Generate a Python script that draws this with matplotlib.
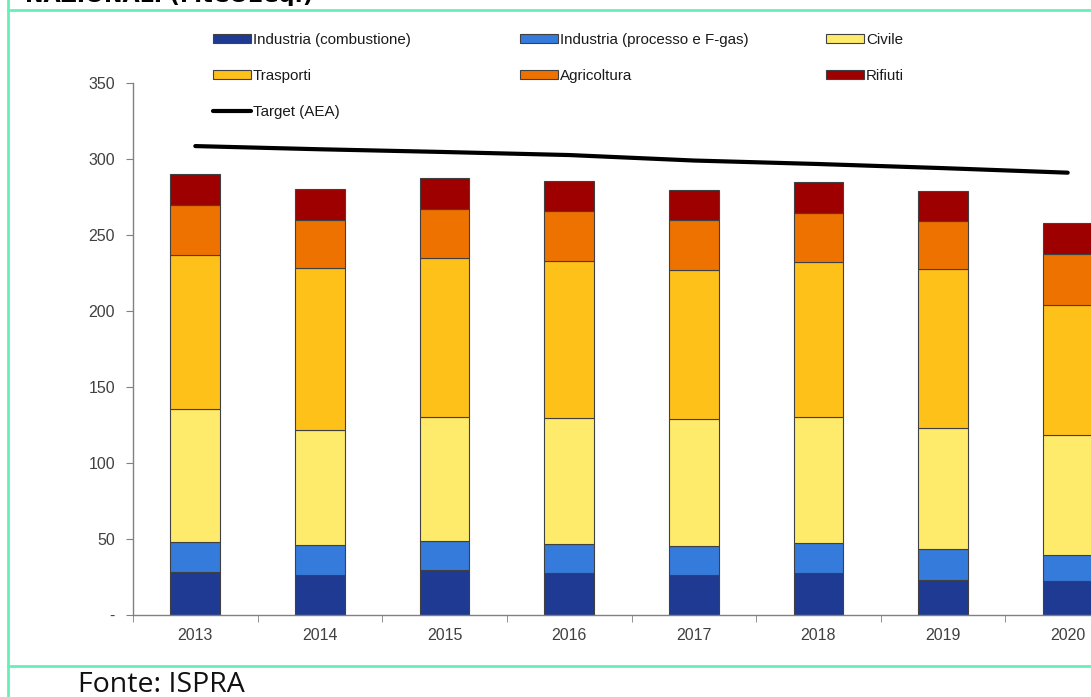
import numpy as np
import matplotlib
matplotlib.use('Agg')
import matplotlib.pyplot as plt
from matplotlib.patches import Patch
from matplotlib.lines import Line2D

# Emissions by sector (MtCO2eq), stacked bottom to top
anni = ['2013', '2014', '2015', '2016', '2017', '2018', '2019', '2020']
ind_combustione = [28.5, 26.3, 29.6, 27.6, 26.3, 27.6, 23.0, 22.4]
ind_processo = [19.7, 19.7, 19.1, 19.1, 19.1, 19.8, 20.2, 17.1]
civile = [87.3, 75.5, 81.8, 83.1, 83.5, 83.1, 79.8, 78.9]
trasporti = [101.3, 107.0, 104.2, 102.9, 98.3, 102.0, 104.4, 85.6]
agricoltura = [32.7, 31.2, 32.2, 33.1, 32.5, 32.2, 31.8, 33.3]
rifiuti = [20.5, 20.6, 20.6, 19.9, 19.9, 20.3, 20.0, 20.4]
target_aea = [308.5, 306.4, 304.6, 302.6, 299.0, 296.7, 294.0, 291.0]

serie = [
    ('Industria (combustione)', ind_combustione, '#1f3a93'),
    ('Industria (processo e F-gas)', ind_processo, '#357bdb'),
    ('Civile', civile, '#ffeb6b'),
    ('Trasporti', trasporti, '#fec11a'),
    ('Agricoltura', agricoltura, '#ee7200'),
    ('Rifiuti', rifiuti, '#9e0000'),
]

plt.rcParams['font.family'] = ['Liberation Sans', 'DejaVu Sans']

W, H = 1091, 697
fig = plt.figure(figsize=(W / 100, H / 100), dpi=100)

# plot area (extends past the right edge of the figure)
ax = fig.add_axes([133 / W, (H - 615) / H, 997 / W, 532 / H])

x = np.arange(len(anni))
base = np.zeros(len(anni))
handles = {}
for nome, valori, colore in serie:
    ax.bar(x, valori, width=0.4, bottom=base, color=colore,
           edgecolor='#404040', linewidth=0.8, zorder=2)
    base += np.array(valori)
    handles[nome] = Patch(facecolor=colore, edgecolor='#404040', linewidth=0.8)

ax.plot(x, target_aea, color='black', linewidth=3, solid_capstyle='round', zorder=3)
handles['Target (AEA)'] = Line2D([0], [0], color='black', linewidth=3,
                                  solid_capstyle='round')

ax.set_xlim(-0.5, len(anni) - 0.5)
ax.set_ylim(0, 350)
ax.set_yticks(range(0, 351, 50))
ax.set_yticklabels(['-'] + [str(v) for v in range(50, 351, 50)])
ax.set_xticks(x)
ax.set_xticklabels(anni)
ax.set_xticks(np.arange(-0.5, len(anni), 1), minor=True)
ax.tick_params(axis='x', which='major', length=0, pad=9, labelsize=11.5,
               labelcolor='#404040')
ax.tick_params(axis='x', which='minor', length=5, color='#808080', direction='out')
ax.tick_params(axis='y', length=5, color='#808080', labelsize=11.5,
               labelcolor='#404040', pad=8)
for s in ['top', 'right']:
    ax.spines[s].set_visible(False)
for s in ['left', 'bottom']:
    ax.spines[s].set_color('#808080')
    ax.spines[s].set_linewidth(1)

# legend laid out as three separate columns
colonne = [
    (213, ['Industria (combustione)', 'Trasporti', 'Target (AEA)']),
    (520, ['Industria (processo e F-gas)', 'Agricoltura']),
    (826, ['Civile', 'Rifiuti']),
]
for x0, nomi in colonne:
    leg = fig.legend([handles[n] for n in nomi], nomi, loc='upper left',
                     bbox_to_anchor=(x0 / W, 1 - 33 / H), frameon=False,
                     fontsize=10.9, handlelength=2.5, handleheight=0.55,
                     handletextpad=0.15, labelspacing=1.45, borderpad=0,
                     borderaxespad=0)
    for t in leg.get_texts():
        t.set_color('#1a1a1a')

# page frame lines and surrounding text
verde = '#66f0b8'
fig.add_artist(Line2D([8 / W, 8 / W], [0, 1], color=verde, linewidth=2))
fig.add_artist(Line2D([8 / W, 1], [1 - 9.5 / H, 1 - 9.5 / H], color=verde, linewidth=2))
fig.add_artist(Line2D([8 / W, 1], [1 - 665.5 / H, 1 - 665.5 / H], color=verde, linewidth=2))
fig.text(25 / W, 1 - 2 / H, 'NAZIONALI (MtCO2eq.)', fontsize=16, fontweight='bold',
         family='DejaVu Sans', va='baseline', ha='left')
fig.text(78 / W, 1 - 692 / H, 'Fonte: ISPRA', fontsize=20.5, family='Open Sans',
         va='baseline', ha='left', color='#111111')

fig.savefig('out.png', dpi=100)
